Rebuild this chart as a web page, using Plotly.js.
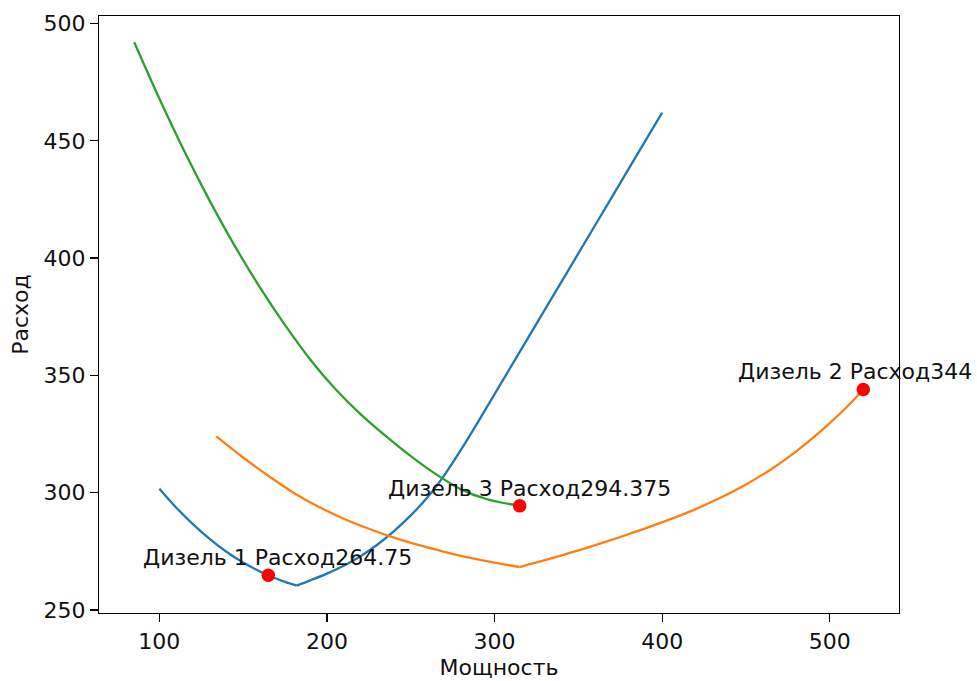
<!DOCTYPE html>
<html>
<head>
<meta charset="utf-8">
<script src="https://cdn.plot.ly/plotly-3.0.1.min.js"></script>
<style>html,body{margin:0;padding:0;background:#fff;}#chart{width:977px;height:681px;}</style>
</head>
<body>
<div id="chart"></div>
<script>
// Diesel 1 (blue): falling branch and rising branch, meeting at the minimum
const d1LeftX = [100,110,120,130,140,150,160,165,170,175,182];
const d1LeftY = [301.7,293.7,286.6,280.3,274.8,270.2,266.4,264.75,263.3,262.0,260.4];
const d1RightX = [182,190,200,210,220,230,240,250,260,270,280,290,300,320,340,360,380,400];
const d1RightY = [260.4,262.6,265.5,268.8,272.9,277.8,283.6,290.3,298.0,307.4,318.3,330.0,342.0,366.0,390.0,414.0,438.0,462.0];
// Diesel 2 (orange)
const d2LeftX = [134,150,165,180,195,210,225,240,255,270,285,300,315];
const d2LeftY = [324.0,315.0,307.2,300.0,294.0,288.9,284.6,280.8,277.6,274.8,272.3,270.2,268.3];
const d2RightX = [315,330,345,360,375,390,405,420,435,450,465,480,495,510,520];
const d2RightY = [268.3,271.2,274.3,277.6,281.1,284.8,288.7,293.0,297.9,303.5,310.0,317.6,326.4,336.4,344.0];
// Diesel 3 (green)
const d3X = [85,100,115,130,145,160,175,190,205,220,235,250,265,280,295,315];
const d3Y = [492.0,468.0,445.4,424.5,405.2,387.5,371.4,356.8,344.2,333.5,324.2,315.6,307.9,301.4,297.3,294.375];
// Optimal points
const ptX = [165, 520, 315];
const ptY = [264.75, 344, 294.375];
const ptLabels = ['Дизель 1 Расход264.75', 'Дизель 2 Расход344', 'Дизель 3 Расход294.375'];
const ptShiftX = [-127, -127, -134];

const xTicks = [100, 200, 300, 400, 500];
const yTicks = [250, 300, 350, 400, 450, 500];

const font = 'DejaVu Sans, sans-serif';
const fsize = 22;
const txtColor = '#111';
const lineW = 2.3;

function seg(x, y, color) {
  return {x: x, y: y, mode: 'lines', line: {color: color, width: lineW, shape: 'spline', smoothing: 0.9}, hoverinfo: 'skip'};
}

const traces = [
  seg(d1LeftX, d1LeftY, '#1f77b4'),
  seg(d1RightX, d1RightY, '#1f77b4'),
  seg(d2LeftX, d2LeftY, '#ff7f0e'),
  seg(d2RightX, d2RightY, '#ff7f0e'),
  seg(d3X, d3Y, '#2ca02c'),
  {x: ptX, y: ptY, mode: 'markers', marker: {color: '#ff0000', size: 13.5}, hoverinfo: 'skip'}
];

const annotations = ptX.map((x, i) => ({
  x: x, y: ptY[i], xref: 'x', yref: 'y',
  text: ptLabels[i], showarrow: false,
  xanchor: 'left', yanchor: 'bottom',
  xshift: ptShiftX[i], yshift: 3,
  font: {family: font, size: fsize, color: txtColor}
}));

const axisCommon = {
  showgrid: false, zeroline: false,
  showline: true, linecolor: '#000', linewidth: 1.2, mirror: true,
  ticks: 'outside', ticklen: 8, tickwidth: 1.2, tickcolor: '#000',
  tickfont: {family: font, size: fsize, color: txtColor}
};

const layout = {
  width: 977, height: 681,
  margin: {l: 99, r: 78, t: 16, b: 68, pad: 0},
  paper_bgcolor: '#fff', plot_bgcolor: '#fff',
  showlegend: false,
  font: {family: font, size: fsize, color: txtColor},
  xaxis: Object.assign({}, axisCommon, {
    range: [64.0, 541.3], tickmode: 'array', tickvals: xTicks,
    ticktext: xTicks.map(String),
    title: {text: 'Мощность', font: {family: font, size: fsize, color: txtColor}, standoff: 7}
  }),
  yaxis: Object.assign({}, axisCommon, {
    range: [248.7, 503.2], tickmode: 'array', tickvals: yTicks,
    ticktext: yTicks.map(String),
    title: {text: 'Расход', font: {family: font, size: fsize, color: txtColor}, standoff: 8}
  }),
  annotations: annotations
};

Plotly.newPlot('chart', traces, layout, {displayModeBar: false, staticPlot: true});
</script>
</body>
</html>
